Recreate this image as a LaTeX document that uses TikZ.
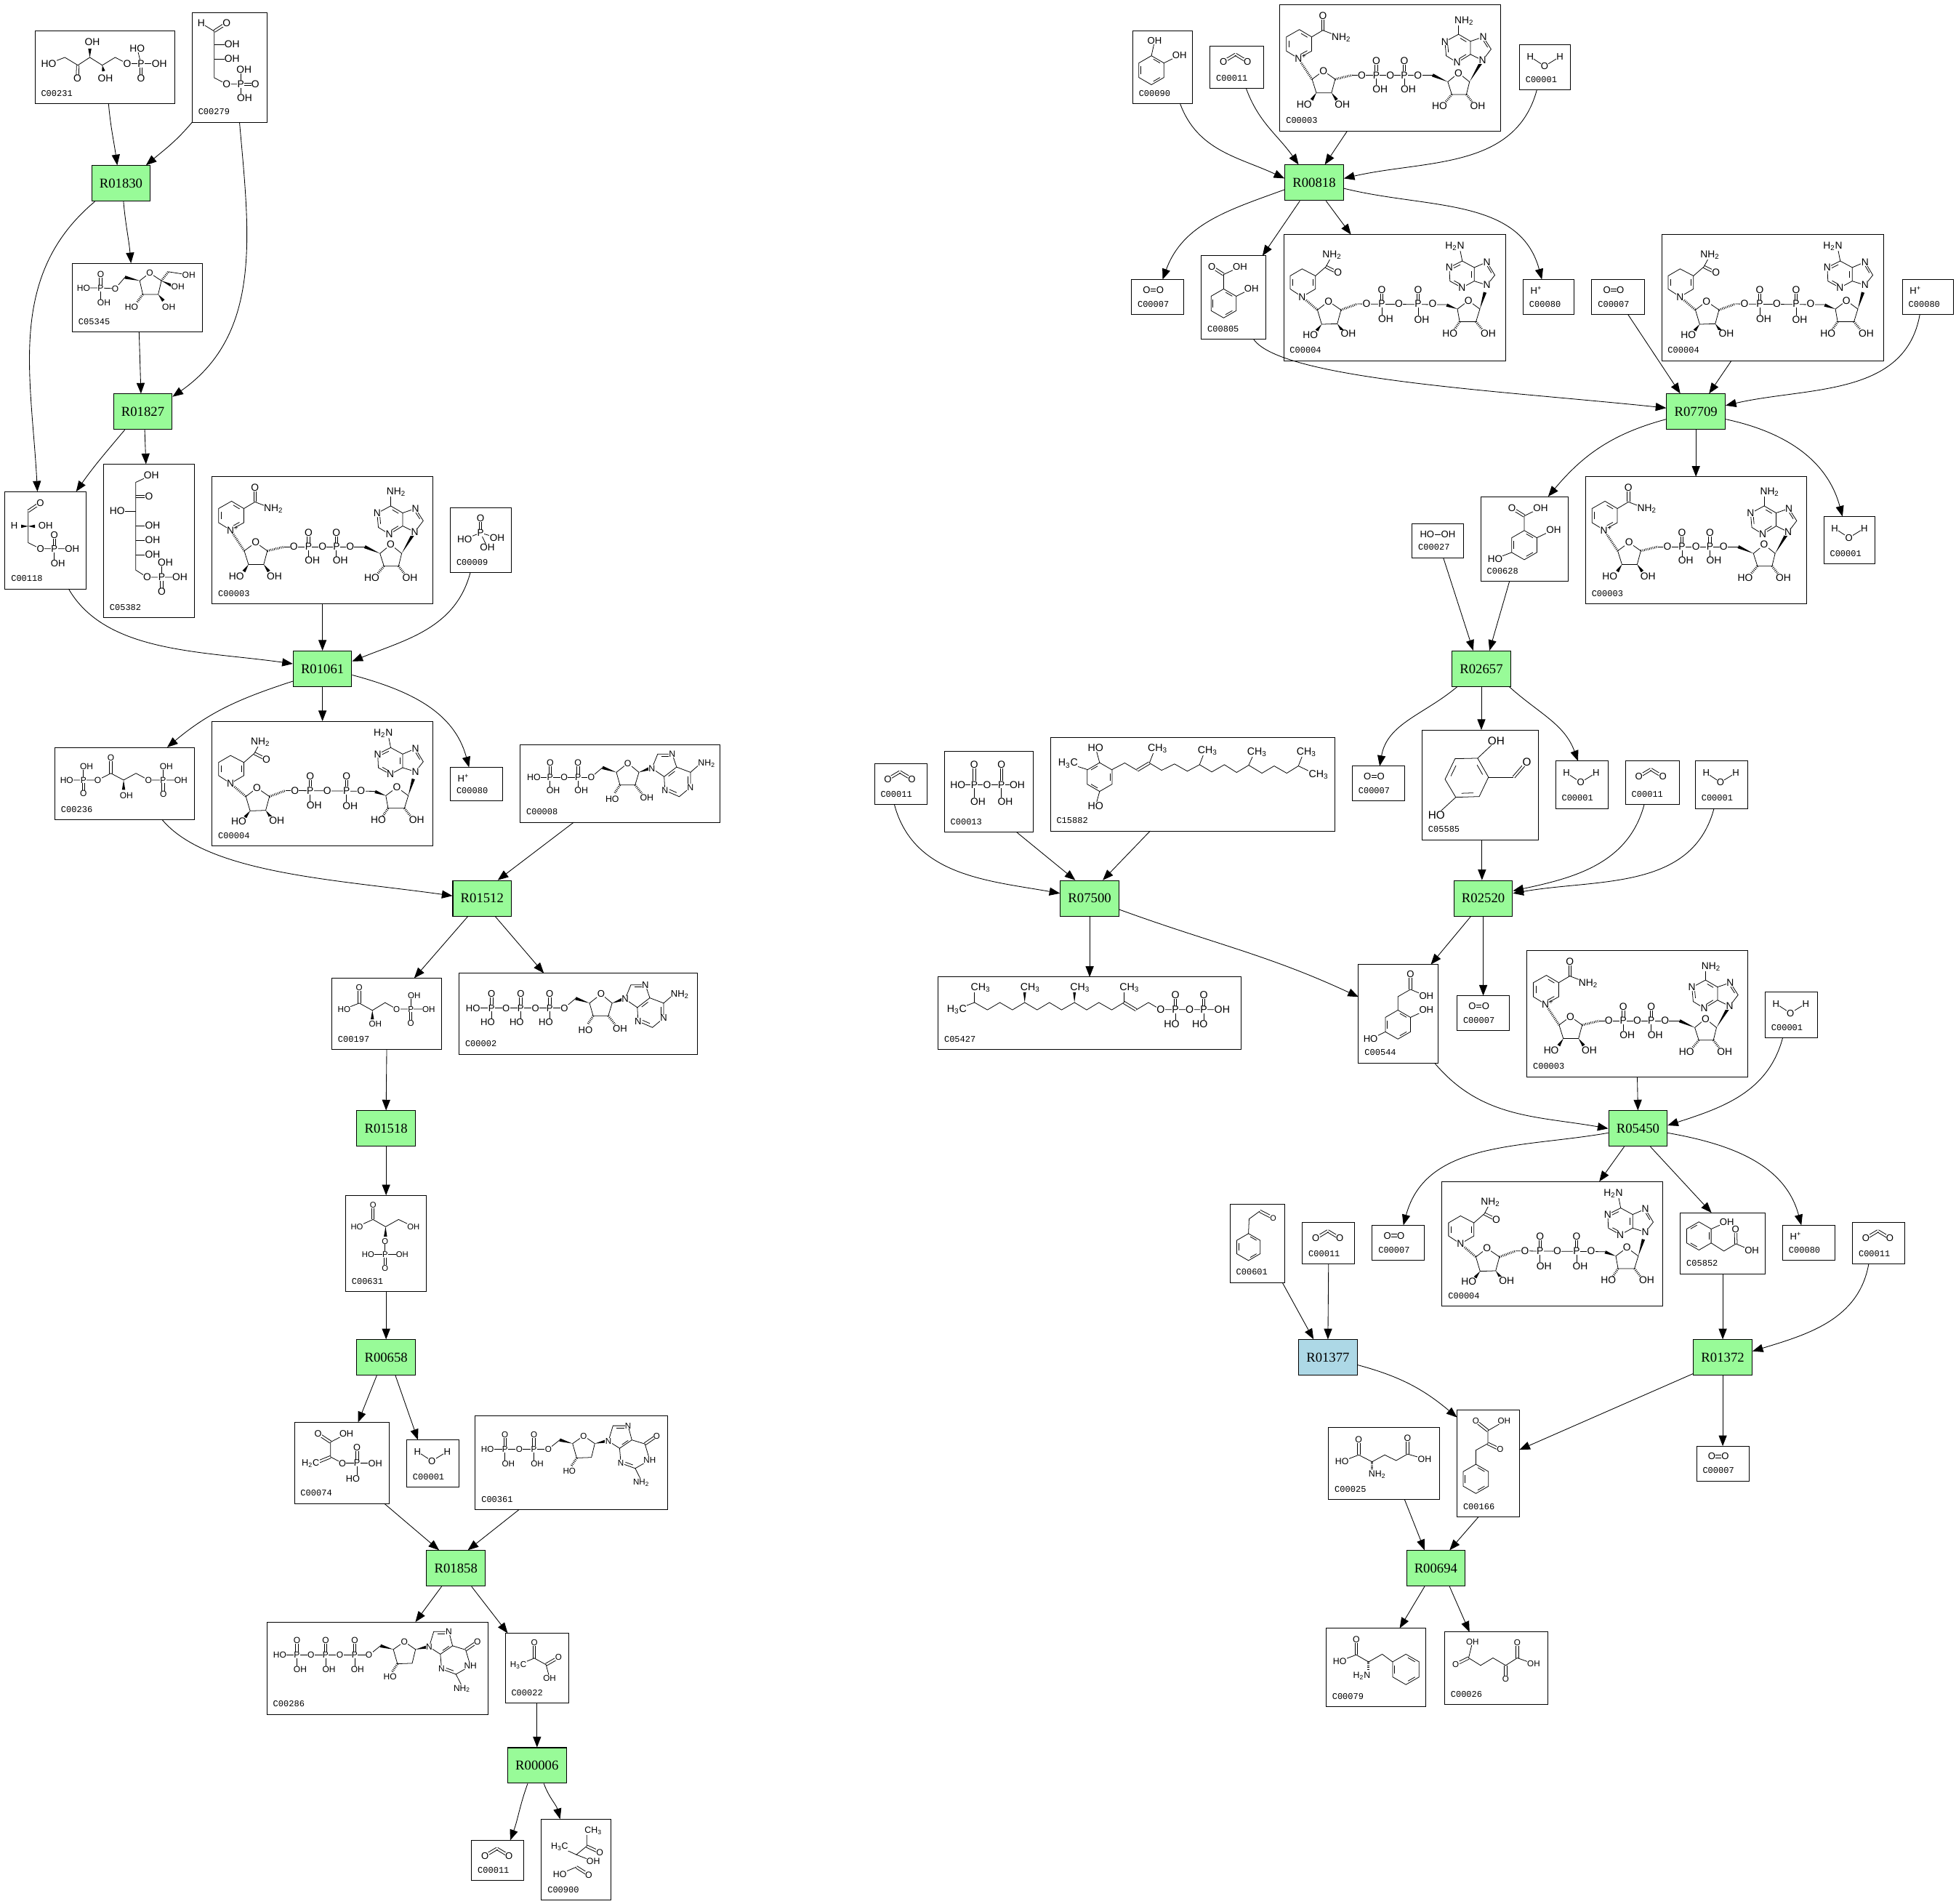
\documentclass[tikz,border=0pt]{standalone}
\usepackage{fontspec}
\usetikzlibrary{arrows.meta,calc}
\newfontfamily\atomfont{Liberation Sans}
\newfontfamily\idfont{Liberation Mono}
\newfontfamily\rxnfont{Liberation Serif}
\definecolor{rxngreen}{HTML}{98FB98}
\definecolor{rxnblue}{HTML}{ADD8E6}
\newcounter{atomno}
\newcommand{\asize}{7.2}
\tikzset{
  rxnbox/.style={draw,line width=.6pt,fill=rxngreen,minimum width=47pt,minimum height=28.5pt,inner sep=0pt,font=\rxnfont\fontsize{10.9}{11}\selectfont},
  blubox/.style={rxnbox,fill=rxnblue},
  cpdbox/.style={draw,line width=.55pt,inner sep=0pt,outer sep=0pt},
  cpdid/.style={anchor=west,inner sep=0pt,font=\idfont\fontsize{7}{7}\selectfont},
  atom/.style={fill=white,inner sep=.2pt,font=\atomfont\fontsize{\fpeval{1.06*\asize}}{\asize}\selectfont},
  edgeline/.style={-{Triangle[length=8.5pt,width=6.5pt]},line width=.5pt}
}
% bond helpers
\newcommand{\atoms}[1]{\foreach \ax/\ay/\atxt in {#1}{\stepcounter{atomno}\node[atom] (atom\theatomno) at (\ax,\ay) {\atxt};}}
\newcommand{\dbl}[2]{\draw ($(#1)!1pt!90:(#2)$) -- ($(#2)!1pt!-90:(#1)$); \draw ($(#1)!1pt!-90:(#2)$) -- ($(#2)!1pt!90:(#1)$);}
\newcommand{\wdg}[2]{\fill (#1) -- ($(#2)!1.3pt!90:(#1)$) -- ($(#2)!1.3pt!-90:(#1)$) -- cycle;}
\newcommand{\hsh}[2]{\draw[line width=1.8pt,dash pattern=on .45pt off .95pt] (#1) -- (#2);}
\newcommand{\inbd}[3]{\draw ($(#1)!.18!(#2)!.2!(#3)$) -- ($(#2)!.18!(#1)!.2!(#3)$);}
\newcommand{\ringsix}[3]{\coordinate (rc) at (#1);
  \draw ($(rc)+(30:#2)$) -- ($(rc)+(90:#2)$) -- ($(rc)+(150:#2)$) -- ($(rc)+(210:#2)$) -- ($(rc)+(270:#2)$) -- ($(rc)+(330:#2)$) -- cycle;
  \foreach \ang in {0,120,240}{\draw ($(rc)+(#3+\ang+10:{.78*#2})$) -- ($(rc)+(#3+\ang+50:{.78*#2})$);}}
\newcommand{\pgroup}[5]{\draw (#1,#2) -- (#1,#4); \dbl{#1,#2}{#1,#2-11.5} \atoms{#1/#2/P,#1/#2-11.5/O,#3/#4/#5}}
\newcommand{\cpd}[7]{%
  \node[cpdbox,minimum width={(#4-#2)*1pt},minimum height={(#5-#3)*1pt}] (#1) at ({(#2+#4)/2},{(#3+#5)/2}) {};
  \node[cpdid] (#1id) at (#2+4.7,#5-8.3) {#6};
  \begin{scope}[shift={(#2,#3)}] #7 \end{scope}}
% small molecules
\newcommand{\water}{\draw (8.7,9.5) -- (20.2,17) -- (32.5,9.4); \atoms{8.7/9.5/H,20.2/17/O,32.5/9.4/H}}
\newcommand{\codiox}{\dbl{10.7,12.4}{20.4,6.6} \dbl{30,12.4}{20.4,6.6} \atoms{10.7/12.4/O,30/12.4/O}}
\newcommand{\oxy}{\dbl{12.2,8.3}{22.9,8.3} \atoms{12.2/8.3/O,22.9/8.3/O}}
\newcommand{\hplus}{\atoms{10.5/8.7/H\textsuperscript{+}}}
% NAD+ and NADH
\newcommand{\nadox}{\def\asize{7.6}
  \draw (14.8,42.8) -- (5.2,36.9) -- (5.2,25.6) -- (15.6,19.7) -- (25.5,25.6) -- (25.5,36.9) -- cycle;
  \inbd{5.2,36.9}{5.2,25.6}{15.5,31.2} \inbd{15.6,19.7}{25.5,25.6}{15.5,31.2} \inbd{25.5,36.9}{14.8,42.8}{15.5,31.2}
  \draw (25.5,25.6) -- (34.4,20.3) -- (49.2,26); \dbl{34.4,20.3}{34.4,8.8}
  \hsh{14.8,42.8}{25.8,59.5}
  \draw (25.8,59.5) -- (34.9,52.8) -- (44.3,59.5) -- (41.4,70.4) -- (29.2,70.4) -- cycle;
  \wdg{29.2,70.4}{25.5,76} \wdg{41.4,70.4}{45.5,76} \hsh{44.3,59.5}{58,56.2}
  \draw (58,56.2) -- (122.4,56.2); \wdg{134.6,61.6}{122.4,56.2}
  \draw (134.6,61.6) -- (143.2,54.5) -- (152,61.6) -- (149.5,71.7) -- (137.8,71.7) -- cycle;
  \hsh{137.8,71.7}{133,77.5} \hsh{149.5,71.7}{154,77.5} \wdg{152,61.6}{161,46.5}
  \draw (143.2,23.5) -- (132.3,29.4) -- (133.3,40.7) -- (142.1,46.1) -- (152.8,39.6) -- (152.8,29.1) -- cycle;
  \draw (152.8,29.1) -- (163,25.6) -- (169.3,35.4) -- (162.5,44.4) -- (152.8,39.6);
  \draw (143.2,23.5) -- (143.2,12.6);
  \inbd{143.2,23.5}{152.8,29.1}{143,35} \inbd{132.3,29.4}{133.3,40.7}{143,35} \inbd{142.1,46.1}{152.8,39.6}{143,35} \inbd{163,25.6}{169.3,35.4}{160,35}
  \pgroup{77.3}{56.2}{80.4}{67.3}{OH} \pgroup{99.7}{56.2}{102.9}{67.3}{OH}
  \atoms{49.2/26/NH\textsubscript{2},34.4/8.8/O,14.8/42.8/N\rlap{\textsuperscript{+}},34.9/52.8/O,19.5/79.9/HO,50/79.9/OH,65.6/56.2/O,88.5/56.2/O,110.7/56.2/O,143.2/54.5/O,128/81.1/HO,158.6/81.1/OH,162.5/44.4/N,163/25.6/N,142.1/46.1/N,132.3/29.4/N,147.6/12.6/NH\textsubscript{2}}}
\newcommand{\nadred}{\def\asize{7.6}
  \draw (14.8,49.9) -- (5.2,43.6) -- (5.2,33.1) -- (14.8,27.5) -- (25.5,33.1) -- (25.5,43.6) -- cycle;
  \inbd{5.2,43.6}{5.2,33.1}{15.5,38.5} \inbd{25.5,33.1}{25.5,43.6}{15.5,38.5}
  \draw (25.5,33.1) -- (33.9,25.8) -- (38.8,16.6); \dbl{33.9,25.8}{43.5,30.6}
  \hsh{14.8,49.9}{27.1,60.4}
  \draw (27.1,60.4) -- (36,53.5) -- (46,60.4) -- (43,71.5) -- (30.5,71.9) -- cycle;
  \wdg{30.5,71.9}{26.5,77} \wdg{43,71.5}{47,77} \hsh{46,60.4}{59,55.6}
  \draw (59,55.6) -- (130.7,56.2); \wdg{139.3,59.7}{130.7,56.5}
  \draw (139.3,59.7) -- (148.2,53) -- (157.3,59.7) -- (154.2,69.8) -- (141.1,69.8) -- cycle;
  \hsh{141.1,69.8}{137,76} \hsh{154.2,69.8}{159,76} \wdg{157.3,59.7}{161.4,46.3}
  \draw (143.2,21.2) -- (132.8,26.4) -- (133.3,37.3) -- (142.9,42.6) -- (152.8,37.3) -- (152.8,26.4) -- cycle;
  \draw (152.8,26.4) -- (163,22) -- (169.3,32.5) -- (163,40.5) -- (152.8,37.3);
  \draw (143.2,21.2) -- (141,10);
  \inbd{143.2,21.2}{132.8,26.4}{143,32} \inbd{133.3,37.3}{142.9,42.6}{143,32} \inbd{152.8,37.3}{152.8,26.4}{143,32} \inbd{163,22}{169.3,32.5}{160,31}
  \pgroup{78.6}{55.6}{81.8}{67.7}{OH} \pgroup{107.8}{55.6}{110.7}{68}{OH}
  \atoms{38.8/16.6/NH\textsubscript{2},43.5/30.6/O,14.8/49.9/N,36/53.5/O,21.4/80.3/HO,51.8/79.5/OH,66.4/55.6/O,92.4/55.6/O,119.5/55.6/O,148.2/53/O,133.3/79.2/HO,164/79.2/OH,163/40.5/N,163/22/N,142.9/42.6/N,132.8/26.4/N,137.2/9.6/H\textsubscript{2}N}}
% sugar and base shared by the nucleotides
\newcommand{\adosyl}{
  \draw (84.4,27.9) -- (93.5,20.2); \wdg{104.6,24}{93.5,20.2}
  \draw (104.6,24) -- (113.8,16.7) -- (122.7,24) -- (119.6,34.2) -- (107.5,34.2) -- cycle;
  \hsh{107.5,34.2}{103,41} \hsh{119.6,34.2}{125,41} \wdg{122.7,24}{131,21}
  \draw (133.1,20.8) -- (137.7,9.4) -- (149.4,9.4) -- (152.9,19.8) -- (142.9,27.5) -- cycle;
  \draw (152.9,19.8) -- (164,24) -- (164,36) -- (155,43.5) -- (143.5,38.5) -- (142.9,27.5);
  \draw (164,24) -- (172,17);
  \inbd{137.7,9.4}{149.4,9.4}{143,18} \inbd{152.9,19.8}{142.9,27.5}{153,31} \inbd{164,24}{164,36}{153,31} \inbd{155,43.5}{143.5,38.5}{153,31}
  \atoms{84.4/27.9/O,113.8/16.7/O,101.3/45.4/HO,129/44.2/OH,133.1/20.8/N,149.4/9.4/N,143.5/38.5/N,164/36/N,177/17/NH\textsubscript{2}}}
\newcommand{\dguo}{
  \draw (58.5,26.5) -- (67.7,19.1); \wdg{78,22}{67.7,19.1}
  \draw (78,22) -- (86.8,15.8) -- (95.8,22) -- (93.1,33.1) -- (81.3,33.5) -- cycle;
  \hsh{81.3,33.5}{77,40} \wdg{95.8,22}{105,20}
  \draw (106.7,20) -- (110.4,7.7) -- (122.5,7.7) -- (125.5,19.1) -- (115.7,25.8) -- cycle;
  \draw (125.5,19.1) -- (136,22.3) -- (139.8,35.2) -- (128.2,41.9) -- (116.7,37.7) -- (115.7,25.8);
  \draw (128.2,41.9) -- (132.3,50);
  \dbl{136,22.3}{145.4,15.8} \inbd{110.4,7.7}{122.5,7.7}{116,16} \inbd{125.5,19.1}{115.7,25.8}{118,16} \inbd{128.2,41.9}{116.7,37.7}{127,31}
  \atoms{58.5/26.5/O,86.8/15.8/O,75.4/44/HO,106.7/20/N,122.5/7.7/N,116.7/37.7/N,139.8/35.2/NH,145.4/15.8/O,133/53.5/NH\textsubscript{2}}}
\begin{document}
\begin{tikzpicture}[x=1pt,y=-1pt,line width=.45pt]
\useasboundingbox (0,0) rectangle (1568,1526);
% reactions
\node[rxnbox] (r01830) at (97,147) {R01830};
\node[rxnbox] (r01827) at (114.5,330) {R01827};
\node[rxnbox] (r01061) at (258.5,536) {R01061};
\node[rxnbox] (r01512) at (386.5,720) {R01512};
\node[rxnbox] (r01518) at (309.5,904.5) {R01518};
\node[rxnbox] (r00658) at (309.5,1088) {R00658};
\node[rxnbox] (r01858) at (365.5,1257) {R01858};
\node[rxnbox] (r00006) at (430.5,1415) {R00006};
\node[rxnbox] (r00818) at (1053.5,146.5) {R00818};
\node[rxnbox] (r07709) at (1359.5,330) {R07709};
\node[rxnbox] (r02657) at (1187.5,536) {R02657};
\node[rxnbox] (r02520) at (1189,720) {R02520};
\node[rxnbox] (r07500) at (873.5,720) {R07500};
\node[rxnbox] (r05450) at (1313,904.5) {R05450};
\node[blubox] (r01377) at (1064.5,1088) {R01377};
\node[rxnbox] (r01372) at (1381,1088) {R01372};
\node[rxnbox] (r00694) at (1151,1257) {R00694};
% left pathway
\cpd{c00231}{28}{25}{140}{83}{C00231}{\def\asize{7.6}
  \draw (11,26) -- (24,21) -- (34.4,27.3) -- (44,21) -- (54,27.3) -- (64.3,21) -- (74,26) -- (99.7,26);
  \draw (85,26) -- (82,13.8); \dbl{34.4,27.3}{34,37.8} \dbl{85,26}{85,37.8}
  \wdg{44,21}{44,14} \wdg{54,27.3}{55,32}
  \atoms{11/26/HO,34/37.8/O,46/8.6/OH,56.5/37.8/OH,74/26/O,85/26/P,82/13.8/HO,99.7/26/OH,85/37.8/O}}
\cpd{c00279}{154}{10}{214}{98}{C00279}{\def\asize{7.6}
  \draw (7.3,8.6) -- (17.7,15) -- (17.7,52.3) -- (27.7,57.5) -- (39,57.5);
  \draw (17.7,25.5) -- (32,25.5); \draw (17.7,37.2) -- (32,37.2); \draw (39,45.8) -- (39,68.5);
  \dbl{17.7,15}{27.6,8.6} \dbl{39,57.5}{50.7,57.5}
  \atoms{7.3/8.6/H,27.6/8.6/O,32/25.5/OH,32/37.2/OH,27.7/57.5/O,39/57.5/P,41.6/45.8/OH,50.7/57.5/O,42/68.5/OH}}
\cpd{c05345}{58}{211}{162}{266}{C05345}{\def\asize{6.6}
  \draw (9,19.8) -- (22.7,19.8) -- (34.4,20.3) -- (42.2,11.2); \draw (22.7,19.8) -- (22.7,31.5); \dbl{22.7,19.8}{22.7,8.9}
  \wdg{54,14}{42.2,11.2}
  \draw (54,14) -- (62,7.8) -- (71.4,14) -- (68.8,25) -- (56.5,25) -- cycle;
  \hsh{56.5,25}{52,31} \wdg{68.8,25}{73,30} \wdg{71.4,14}{80,18} \hsh{71.4,14}{77,6.8} \draw (77,6.8) -- (93.3,9.4);
  \atoms{9/19.8/HO,22.7/19.8/P,22.7/8.9/O,25.3/31.5/OH,34.4/20.3/O,62/7.8/O,47.4/34.9/HO,77.3/34.9/OH,84.6/18.8/OH,93.3/9.4/OH}}
\cpd{c00118}{4}{394}{69}{472}{C00118}{\def\asize{7.2}
  \draw (18.6,15.7) -- (18.6,41) -- (28.4,45.8) -- (53.8,45.8); \draw (39.6,45.8) -- (39.6,57.5);
  \dbl{18.6,15.7}{28.3,9.1} \dbl{39.6,45.8}{39.6,34.9}
  \wdg{18.6,27.8}{13,27.8} \wdg{18.6,27.8}{24,27.8}
  \atoms{28.3/9.1/O,7.4/27.4/H,32.6/27.4/OH,28.4/45.8/O,39.6/45.8/P,39.6/34.9/O,53.8/45.8/OH,42.5/57.5/OH}}
\cpd{c05382}{83}{372}{156}{495}{C05382}{\def\asize{7.6}
  \draw (38.4,8.7) -- (25.8,14.6) -- (25.8,84.9) -- (35,90.7) -- (61.2,90.7); \draw (46.6,79) -- (46.6,90.7);
  \dbl{25.8,25.8}{36.5,25.8} \dbl{46.6,90.7}{46.6,102.3}
  \draw (10.9,37.7) -- (25.8,37.7); \draw (25.8,49.3) -- (39.4,49.3); \draw (25.8,61) -- (39.4,61); \draw (25.8,72.6) -- (39.4,72.6);
  \atoms{38.4/8.7/OH,36.5/25.8/O,10.9/37.7/HO,39.4/49.3/OH,39.4/61/OH,39.4/72.6/OH,35/90.7/O,46.6/90.7/P,49.5/79/OH,61.2/90.7/OH,46.6/102.3/O}}
\cpd{nadA}{170}{382}{347}{484}{C00003}{\nadox}
\cpd{c00009}{361}{407}{410}{459}{C00009}{\def\asize{7.4}
  \draw (11.5,25) -- (24.2,20.1) -- (37.5,24); \draw (24.2,20.1) -- (29.7,31.7); \dbl{24.2,20.1}{24.2,8.6}
  \atoms{24.2/8.6/O,24.2/20.1/P,11.5/25/HO,37.5/24/OH,29.7/31.7/OH}}
\cpd{c00236}{44}{599}{156}{657}{C00236}{\def\asize{6.6}
  \draw (9.5,26.2) -- (34.4,26.2) -- (44.9,20.8) -- (55.1,26.2) -- (65,20.8) -- (75.1,26.2) -- (101,26.2);
  \draw (22.9,15.1) -- (22.9,26.2); \draw (86.8,15.1) -- (86.8,26.2);
  \dbl{22.9,26.2}{22.9,36.9} \dbl{44.9,20.8}{44.9,8.3} \dbl{86.8,26.2}{86.8,37.5} \wdg{55.1,26.2}{55.1,34}
  \atoms{9.5/26.2/HO,22.9/26.2/P,25.4/15.1/OH,22.9/36.9/O,34.4/26.2/O,44.9/8.3/O,57.3/38.4/OH,75.1/26.2/O,86.8/26.2/P,89.3/15.1/OH,87/37.5/O,101/26.2/OH}}
\cpd{nadhA}{170}{578}{347}{678}{C00004}{\nadred}
\cpd{hA}{361}{615}{403}{642}{C00080}{\hplus}
\cpd{adp}{417}{597}{577}{659}{C00008}{\def\asize{6.8}
  \begin{scope}[shift={(-27.5,-2)}]
  \draw (38.4,28.1) -- (84.4,28.1);
  \pgroup{51.5}{28.1}{54}{38.5}{OH} \pgroup{73.9}{28.1}{76.5}{38.5}{OH}
  \atoms{38.4/28.1/HO,62.7/28.1/O}
  \adosyl
  \end{scope}}
\cpd{c00197}{266}{784}{354}{841}{C00197}{\def\asize{6.4}
  \draw (9.8,24.8) -- (22,20) -- (32.5,25.8) -- (42.7,19.6) -- (52,24.8) -- (77.7,24.8); \draw (63.3,14) -- (63.3,24.8);
  \dbl{22,20}{22,7.7} \dbl{63.3,24.8}{63.3,36.3} \wdg{32.5,25.8}{32.5,33}
  \atoms{22/7.7/O,9.8/24.8/HO,34.8/36.7/OH,52/24.8/O,63.3/24.8/P,66/14/OH,77.7/24.8/OH,63.3/36.3/O}}
\cpd{c00002}{368}{780}{559}{845}{C00002}{\def\asize{7.2}
  \draw (11.2,27.9) -- (84.4,27.9);
  \pgroup{26}{27.9}{22.9}{39.4}{HO} \pgroup{49.4}{27.9}{46.2}{39.4}{HO} \pgroup{72.7}{27.9}{69.6}{39.4}{HO}
  \atoms{11.2/27.9/HO,37.7/27.9/O,61.2/27.9/O}
  \adosyl}
\cpd{c00631}{277}{958}{342}{1035}{C00631}{\def\asize{6.2}
  \draw (9.1,25.2) -- (22,19.4) -- (32.1,25.2) -- (42.5,19.4) -- (54.4,25.2); \dbl{22,19.4}{22,7.7}
  \wdg{32.1,25.2}{32,33}
  \draw (31.7,36.7) -- (31.7,47.3); \draw (18.1,47.3) -- (45.4,47.3); \dbl{31.7,47.3}{31.7,58.5}
  \atoms{22/7.7/O,9.1/25.2/HO,54.4/25.2/OH,31.7/36.7/O,31.7/47.3/P,18.1/47.3/HO,45.4/47.3/OH,31.7/58.5/O}}
\cpd{c00074}{236}{1140}{312}{1205}{C00074}{\def\asize{7}
  \draw (29,15.8) -- (41.7,9.2); \draw (29,15.8) -- (29,27.7) -- (38.5,32.7) -- (64.8,32.7); \draw (50.2,32.7) -- (50.2,45.2);
  \dbl{29,15.8}{19,9.2} \dbl{29,27.7}{16,33} \dbl{50.2,32.7}{50.2,20.4}
  \atoms{19/9.2/O,41.7/9.2/OH,13/32.7/H\textsubscript{2}C,38.5/32.7/O,50.2/32.7/P,50.2/20.4/O,64.8/32.7/OH,46.9/45.2/HO}}
\cpd{watA}{326}{1154}{368}{1192}{C00001}{\water}
\cpd{c00361}{381}{1135}{535}{1210}{C00361}{\def\asize{6.4}
  \draw (9.8,26.5) -- (58.5,26.5);
  \pgroup{23.8}{26.5}{26.5}{38.1}{OH} \pgroup{47}{26.5}{49.6}{38.1}{OH}
  \atoms{9.8/26.5/HO,35.2/26.5/O}
  \dguo}
\cpd{c00286}{214}{1300}{391}{1374}{C00286}{\def\asize{6.6}
  \draw (10.3,26.4) -- (81.8,26.4);
  \pgroup{24}{26.4}{26.6}{38}{OH} \pgroup{47}{26.4}{49.7}{38}{OH} \pgroup{70.3}{26.4}{72.6}{38}{OH}
  \atoms{10.3/26.4/HO,35.3/26.4/O,58.4/26.4/O}
  \begin{scope}[shift={(23.3,0)}]\dguo\end{scope}}
\cpd{c00022}{405}{1309}{456}{1365}{C00022}{\def\asize{6.4}
  \draw (10.5,25.4) -- (23.3,20) -- (32.7,25.2) -- (35.6,36.1); \dbl{23.3,20}{23.3,7.6} \dbl{32.7,25.2}{42.7,19.4}
  \atoms{23.3/7.6/O,10.5/25.4/H\textsubscript{3}C,42.7/19.4/O,35.6/36.1/OH}}
\cpd{co2A}{378}{1475}{420}{1507}{C00011}{\codiox}
\cpd{c00900}{434}{1458}{490}{1523}{C00900}{\def\asize{6.8}
  \draw (14.6,22.3) -- (28,28.5) -- (36.3,21.7) -- (36.3,12); \draw (28,28.5) -- (41.6,33.8); \dbl{36.3,21.7}{46.8,26.6}
  \draw (14.8,44) -- (28,38.4); \dbl{28,38.4}{38,44.7}
  \atoms{41.6/9.3/CH\textsubscript{3},46.8/26.6/O,14.6/22.3/H\textsubscript{3}C,41.6/33.8/OH,14.8/44/HO,38/44.7/O}}
% right pathway
\cpd{c00090}{908}{25}{956}{83}{C00090}{
  \ringsix{15,31.3}{11.6}{30} \draw (15,19.7) -- (17.6,7.8); \draw (25,25.5) -- (37.5,19.4);
  \atoms{17.6/7.8/OH,37.5/19.4/OH}}
\cpd{co2B}{970}{37}{1013}{71}{C00011}{\codiox}
\cpd{nadB}{1026}{4}{1203}{105}{C00003}{\nadox}
\cpd{watB}{1218}{36}{1259}{72}{C00001}{\water}
\cpd{oxA}{907}{224}{949}{252}{C00007}{\oxy}
\cpd{c00805}{963}{205}{1015}{272}{C00805}{
  \ringsix{17.9,38.2}{11.6}{30} \draw (17.9,26.6) -- (17.9,15) -- (31,8.9); \dbl{17.9,15}{8.5,8.9} \draw (28,32.4) -- (40.2,26.4);
  \atoms{8.5/8.9/O,31/8.9/OH,40.2/26.4/OH}}
\cpd{nadhB}{1029}{188}{1207}{289}{C00004}{\nadred}
\cpd{hB}{1221}{224}{1262}{252}{C00080}{\hplus}
\cpd{oxB}{1276}{224}{1318}{252}{C00007}{\oxy}
\cpd{nadhC}{1332}{188}{1510}{289}{C00004}{\nadred}
\cpd{hC}{1525}{224}{1566}{252}{C00080}{\hplus}
\cpd{c00628}{1187}{398}{1257}{466}{C00628}{\def\asize{7.4}
  \ringsix{34.9,38.9}{11.7}{30} \draw (34.9,27.2) -- (34.9,15.5) -- (48,9.1); \dbl{34.9,15.5}{25,9.3} \draw (45,33) -- (58.5,26.5); \draw (24.9,44.7) -- (11.5,49.9);
  \atoms{25/9.3/O,48/9.1/OH,58.5/26.5/OH,11.5/49.9/HO}}
\cpd{nadC}{1271}{382}{1448}{484}{C00003}{\nadox}
\cpd{watC}{1462}{414}{1503}{452}{C00001}{\water}
\cpd{c00027}{1132}{420}{1173}{447}{C00027}{\draw (12,8.5) -- (29,8.5); \atoms{12/8.5/HO,29/8.5/OH}}
\cpd{oxC}{1084}{614}{1126}{642}{C00007}{\oxy}
\cpd{c05585}{1140}{585}{1233}{673}{C05585}{\def\asize{8.4}
  \draw (26.4,23.1) -- (44.5,22.7) -- (53.2,37.9) -- (45.8,53.4) -- (27,54) -- (18.4,39.6) -- cycle;
  \inbd{26.4,23.1}{18.4,39.6}{36,38.5} \inbd{44.5,22.7}{53.2,37.9}{36,38.5} \inbd{45.8,53.4}{27,54}{36,38.5}
  \draw (44.5,22.7) -- (59.4,8.7); \draw (53.2,37.9) -- (73.4,37.9); \dbl{73.4,37.9}{83.9,25.8} \draw (27,54) -- (11.5,68.2);
  \atoms{59.4/8.7/OH,83.9/25.8/O,11.5/68.2/HO}}
\cpd{watD}{1247}{610}{1289}{648}{C00001}{\water}
\cpd{co2C}{1303}{610}{1346}{645}{C00011}{\codiox}
\cpd{watE}{1359}{610}{1401}{648}{C00001}{\water}
\cpd{co2D}{701}{612}{743}{645}{C00011}{\codiox}
\cpd{c00013}{757}{602}{828}{667}{C00013}{\def\asize{7.6}
  \draw (10.8,26.9) -- (58.5,26.9);
  \draw (24,26.9) -- (24,40.5); \draw (45.8,26.9) -- (45.8,40.5); \dbl{24,26.9}{24,10.7} \dbl{45.8,26.9}{45.8,10.7}
  \atoms{10.8/26.9/HO,24/26.9/P,24/10.7/O,27/40.5/OH,34.3/26.9/O,45.8/26.9/P,45.8/10.7/O,48.8/40.5/OH,58.5/26.9/OH}}
\cpd{c15882}{842}{591}{1070}{666}{C15882}{\def\asize{7.8}
  \ringsix{39.5,31.8}{11.5}{90}
  \draw (29.7,25.8) -- (14.2,20.9); \draw (39.5,20.3) -- (36.3,8.6); \draw (39.5,43.3) -- (36.3,54.7);
  \draw (49.4,25.8) -- (59.6,20.5) -- (69.6,26.4); \dbl{69.6,26.4}{79.4,20.5}
  \draw (79.4,20.5) -- (84,8.8); \draw (79.4,20.5) -- (89.2,26.4) -- (99.5,21.3) -- (109.8,27.1) -- (119.6,21.9) -- (129.4,27.7) -- (139.5,21.9) -- (149.3,28.1) -- (159,22.3) -- (169.6,28.7) -- (179.4,22.9) -- (189.5,28.7) -- (198.8,22.9) -- (213,29.7);
  \draw (119.6,21.9) -- (124,10.5); \draw (159,22.3) -- (163.7,11.7); \draw (198.8,22.9) -- (203.2,11.7);
  \atoms{14.2/20.9/H\textsubscript{3}C,36.3/8.6/HO,36.3/54.7/HO,86/8.8/CH\textsubscript{3},126/10.5/CH\textsubscript{3},165.7/11.7/CH\textsubscript{3},205.2/11.7/CH\textsubscript{3},215/29.7/CH\textsubscript{3}}}
\cpd{c05427}{752}{783}{995}{841}{C05427}{\def\asize{7.8}
  \draw (14.2,26.2) -- (29.2,20.5) -- (39.5,26.4) -- (49.5,20.5) -- (59.6,26.4) -- (69.4,20.5) -- (79.4,26.4) -- (89.2,20.5) -- (99,26.4) -- (109.3,20.5) -- (119.1,26.4) -- (128.9,20.5) -- (139.2,26.4) -- (149,20.5);
  \dbl{149,20.5}{158.8,26.4} \draw (158.8,26.4) -- (168.6,20.5) -- (178.4,26.2) -- (227.7,26.2);
  \draw (29.2,20.5) -- (29.2,11); \wdg{69.4,20.5}{69.4,11} \wdg{109.3,20.5}{109.3,11} \draw (149,20.5) -- (149,11);
  \pgroup{190.2}{26.2}{187.3}{37.9}{HO} \pgroup{213}{26.2}{209.8}{37.9}{HO}
  \atoms{15/26.2/H\textsubscript{3}C,34/8.8/CH\textsubscript{3},73.8/8.8/CH\textsubscript{3},113.7/8.8/CH\textsubscript{3},153.4/8.8/CH\textsubscript{3},178.4/26.2/O,201.7/26.2/O,227.7/26.2/OH}}
\cpd{c00544}{1089}{773}{1153}{852}{C00544}{
  \ringsix{31.6,48.2}{11.6}{30} \draw (31.6,36.6) -- (31.6,25.8) -- (41.7,20) -- (54.4,25.4); \dbl{41.7,20}{41.7,8} \draw (41.7,42.4) -- (54.4,36.5); \draw (21.6,54) -- (9.7,59.8);
  \atoms{41.7/8/O,54.4/25.4/OH,54.4/36.5/OH,9.7/59.8/HO}}
\cpd{oxD}{1168}{798}{1210}{826}{C00007}{\oxy}
\cpd{nadD}{1224}{762}{1401}{863}{C00003}{\nadox}
\cpd{watF}{1415}{795}{1457}{832}{C00001}{\water}
\cpd{oxE}{1100}{982}{1142}{1010}{C00007}{\oxy}
\cpd{nadhD}{1156}{947}{1333}{1047}{C00004}{\nadred}
\cpd{c05852}{1347}{972}{1415}{1021}{C05852}{
  \ringsix{14.9,18.6}{11.3}{-30} \draw (24.8,13) -- (37.3,7.4); \draw (24.8,24.3) -- (34.9,30.7) -- (44.6,24.9) -- (57.3,30.3); \dbl{44.6,24.9}{44.3,13.2}
  \atoms{37.3/7.4/OH,44.3/13.2/O,57.3/30.3/OH}}
\cpd{hD}{1429}{982}{1471}{1010}{C00080}{\hplus}
\cpd{co2E}{1485}{980}{1527}{1013}{C00011}{\codiox}
\cpd{c00601}{986}{965}{1030}{1028}{C00601}{\def\asize{6}
  \ringsix{14.8,34.5}{10.8}{30} \draw (14.8,23.7) -- (15.3,12) -- (23.9,5.7); \dbl{23.9,5.7}{34.6,11.2}
  \atoms{34.6/11.2/O}}
\cpd{co2F}{1044}{980}{1086}{1013}{C00011}{\codiox}
\cpd{c00166}{1168}{1130}{1218}{1216}{C00166}{\def\asize{6.4}
  \ringsix{15.1,55.3}{11.7}{30} \draw (15.1,43.6) -- (15.1,32.3) -- (24.7,27) -- (24.7,16.7) -- (37.8,9.1); \dbl{24.7,16.7}{15.1,9.1} \dbl{24.7,27}{34.6,31.8}
  \atoms{15.1/9.1/O,37.8/9.1/OH,34.6/31.8/O}}
\cpd{c00025}{1065}{1144}{1154}{1202}{C00025}{\def\asize{6.8}
  \draw (10.7,27.3) -- (24.2,22.1) -- (34.9,27.6) -- (45,22.1) -- (54.2,26.6) -- (63.3,21.4) -- (77,25.3); \dbl{24.2,22.1}{24.2,9.6} \dbl{63.3,21.4}{63.3,8.6} \hsh{34.9,27.6}{34.9,34}
  \atoms{10.7/27.3/HO,24.2/9.6/O,39/38/NH\textsubscript{2},63.3/8.6/O,77/25.3/OH}}
\cpd{oxF}{1360}{1159}{1402}{1187}{C00007}{\oxy}
\cpd{c00079}{1063}{1305}{1143}{1368}{C00079}{\def\asize{6.8}
  \ringsix{64,33}{12.2}{30} \draw (11,26.3) -- (24.2,21.3) -- (34.1,27) -- (45,20.8) -- (53.4,27); \dbl{24.2,21.3}{24.2,9.1} \hsh{34.1,27}{34.1,33}
  \atoms{24.2/9.1/O,11/26.3/HO,28.6/38.2/H\textsubscript{2}N}}
\cpd{c00026}{1158}{1308}{1241}{1366}{C00026}{\def\asize{6.4}
  \draw (22.4,8.1) -- (19.3,20.8) -- (28.9,26.8) -- (38.8,20.8) -- (49,26.8) -- (58.3,20.8) -- (71.4,25.5); \dbl{19.3,20.8}{8.9,26} \dbl{49,26.8}{49,37.5} \dbl{58.3,20.8}{58.3,8.3}
  \atoms{22.4/8.1/OH,8.9/26/O,49/37.5/O,58.3/8.3/O,71.4/25.5/OH}}
% left connectors
\draw[edgeline] ([xshift=3]c00231.south) to[out=-85,in=98] ([xshift=-3]r01830.north);
\draw[edgeline] (c00279.south west) to[out=-130,in=40] ([xshift=20]r01830.north);
\draw[edgeline] ([xshift=8]c00279.south) to[out=-85,in=35] ([yshift=12]r01827.east);
\draw[edgeline] ([xshift=-21]r01830.south) to[out=-140,in=93] ([xshift=-6.5]c00118.north);
\draw[edgeline] ([xshift=2]r01830.south) to[out=-85,in=95] ([xshift=-5]c05345.north);
\draw[edgeline] ([xshift=1.5]c05345.south) -- ([xshift=-1.5]r01827.north);
\draw[edgeline] ([xshift=-14.5]r01827.south) to[out=-130,in=55] ([xshift=24.5]c00118.north);
\draw[edgeline] ([xshift=1.5]r01827.south) -- ([xshift=-2.5]c05382.north);
\draw[edgeline] ([xshift=18.5]c00118.south) to[out=-60,in=172,out looseness=.8] ([yshift=4]r01061.west);
\draw[edgeline] (nadA.south) -- (r01061.north);
\draw[edgeline] ([xshift=-8.5]c00009.south) to[out=-105,in=22] ([yshift=6]r01061.east);
\draw[edgeline] ([yshift=-10]r01061.west) to[out=198,in=40] ([xshift=34]c00236.north);
\draw[edgeline] (r01061.south) -- (nadhA.north);
\draw[edgeline] ([yshift=-5]r01061.east) to[out=-15,in=105] ([xshift=-6]hA.north);
\draw[edgeline] ([xshift=30]c00236.south) to[out=-50,in=172,out looseness=.6] ([yshift=2]r01512.west);
\draw[edgeline] ([xshift=-37]adp.south) -- ([xshift=12.5]r01512.north);
\draw[edgeline] ([xshift=-11.5]r01512.south) -- ([xshift=22]c00197.north);
\draw[edgeline] ([xshift=10.5]r01512.south) -- ([xshift=-27.5]c00002.north);
\draw[edgeline] (c00197.south) -- (r01518.north);
\draw[edgeline] (r01518.south) -- (c00631.north);
\draw[edgeline] (c00631.south) -- (r00658.north);
\draw[edgeline] ([xshift=-7.5]r00658.south) -- ([xshift=13]c00074.north);
\draw[edgeline] ([xshift=7.5]r00658.south) -- ([xshift=-12]watA.north);
\draw[edgeline] ([xshift=34]c00074.south) -- ([xshift=-13.5]r01858.north);
\draw[edgeline] ([xshift=-42]c00361.south) -- ([xshift=9.5]r01858.north);
\draw[edgeline] ([xshift=-11.5]r01858.south) -- ([xshift=30.5]c00286.north);
\draw[edgeline] ([xshift=12.5]r01858.south) -- ([xshift=-23.5]c00022.north);
\draw[edgeline] (c00022.south) -- (r00006.north);
\draw[edgeline] ([xshift=-7.5]r00006.south) to[out=-110,in=70] ([xshift=10]co2A.north);
\draw[edgeline] ([xshift=5.5]r00006.south) to[out=-70,in=105] ([xshift=-13]c00900.north);
% right connectors
\draw[edgeline] ([xshift=14]c00090.south) to[out=-70,in=155] ([yshift=3.5]r00818.west);
\draw[edgeline] ([xshift=7.5]co2B.south) to[out=-70,in=125] ([xshift=-12.5]r00818.north);
\draw[edgeline] ([xshift=-34.5]nadB.south) -- ([xshift=8.5]r00818.north);
\draw[edgeline] ([xshift=-6.5]watB.south) to[out=-105,in=13] ([yshift=3.5]r00818.east);
\draw[edgeline] ([yshift=-5.5]r00818.west) to[out=200,in=70] ([xshift=4]oxA.north);
\draw[edgeline] ([xshift=-11.5]r00818.south) -- ([xshift=23]c00805.north);
\draw[edgeline] ([xshift=9.5]r00818.south) -- ([xshift=-35]nadhB.north);
\draw[edgeline] ([yshift=-4.5]r00818.east) to[out=-14,in=105] ([xshift=-5.5]hB.north);
\draw[edgeline] ([xshift=16]c00805.south) to[out=-55,in=174,out looseness=.3] ([yshift=3]r07709.west);
\draw[edgeline] ([xshift=8]oxB.south) -- ([xshift=-12.5]r07709.north);
\draw[edgeline] ([xshift=-33]nadhC.south) -- ([xshift=10.5]r07709.north);
\draw[edgeline] ([xshift=-6.5]hC.south) to[out=-100,in=13] ([yshift=5]r07709.east);
\draw[edgeline] ([yshift=-6]r07709.west) to[out=195,in=50] ([xshift=19]c00628.north);
\draw[edgeline] (r07709.south) -- (nadC.north);
\draw[edgeline] ([yshift=-6]r07709.east) to[out=-12,in=105] ([xshift=-5.5]watC.north);
\draw[edgeline] ([xshift=4.5]c00027.south) -- ([xshift=-6.5]r02657.north);
\draw[edgeline] ([xshift=-12]c00628.south) -- ([xshift=6.5]r02657.north);
\draw[edgeline] ([xshift=-19.5]r02657.south) to[out=-140,in=80] ([xshift=1]oxC.north);
\draw[edgeline] (r02657.south) -- ([xshift=1]c05585.north);
\draw[edgeline] ([xshift=22.5]r02657.south) to[out=-42,in=110] ([xshift=-3]watD.north);
\draw[edgeline] ([xshift=1.5]c05585.south) -- ([xshift=-1]r02520.north);
\draw[edgeline] ([xshift=-6.5]co2C.south) to[out=-105,in=12] ([yshift=6]r02520.east);
\draw[edgeline] ([xshift=-6]watE.south) to[out=-105,in=10] ([yshift=4]r02520.east);
\draw[edgeline] ([xshift=-5]co2D.south) to[out=-75,in=170] ([yshift=4]r07500.west);
\draw[edgeline] ([xshift=22.5]c00013.south) -- ([xshift=-11.5]r07500.north);
\draw[edgeline] ([xshift=-34]c15882.south) -- ([xshift=10.5]r07500.north);
\draw[edgeline] (r07500.south) -- (c05427.north);
\draw[edgeline] ([yshift=-9]r07500.east) to[out=-20,in=155] ([yshift=13.5]c00544.west);
\draw[edgeline] ([xshift=-10]r02520.south) -- ([xshift=26]c00544.north);
\draw[edgeline] (r02520.south) -- (oxD.north);
\draw[edgeline] ([xshift=29]c00544.south) to[out=-50,in=170] (r05450.west);
\draw[edgeline] (nadD.south) -- (r05450.north);
\draw[edgeline] ([xshift=-7]watF.south) to[out=-105,in=18] ([yshift=2.5]r05450.east);
\draw[edgeline] ([yshift=-3.5]r05450.west) to[out=190,in=75] ([xshift=4]oxE.north);
\draw[edgeline] ([xshift=-11]r05450.south) -- ([xshift=37.5]nadhD.north);
\draw[edgeline] ([xshift=10]r05450.south) -- ([xshift=-9]c05852.north);
\draw[edgeline] ([yshift=-3.5]r05450.east) to[out=-10,in=105] ([xshift=-6]hD.north);
\draw[edgeline] ([xshift=20]c00601.south) -- ([xshift=-11.5]r01377.north);
\draw[edgeline] (co2F.south) -- (r01377.north);
\draw[edgeline] (c05852.south) -- (r01372.north);
\draw[edgeline] ([xshift=-8]co2E.south) to[out=-100,in=17] ([yshift=5]r01372.east);
\draw[edgeline] ([yshift=-6]r01377.east) to[out=-15,in=140] ([yshift=37]c00166.west);
\draw[edgeline] ([yshift=-13]r01372.west) -- ([yshift=11]c00166.east);
\draw[edgeline] (r01372.south) -- (oxF.north);
\draw[edgeline] ([xshift=16.5]c00025.south) -- ([xshift=-9]r00694.north);
\draw[edgeline] ([xshift=-8]c00166.south) -- ([xshift=11]r00694.north);
\draw[edgeline] ([xshift=-9]r00694.south) -- ([xshift=19]c00079.north);
\draw[edgeline] ([xshift=11]r00694.south) -- ([xshift=-21.5]c00026.north);
\end{tikzpicture}
\end{document}
